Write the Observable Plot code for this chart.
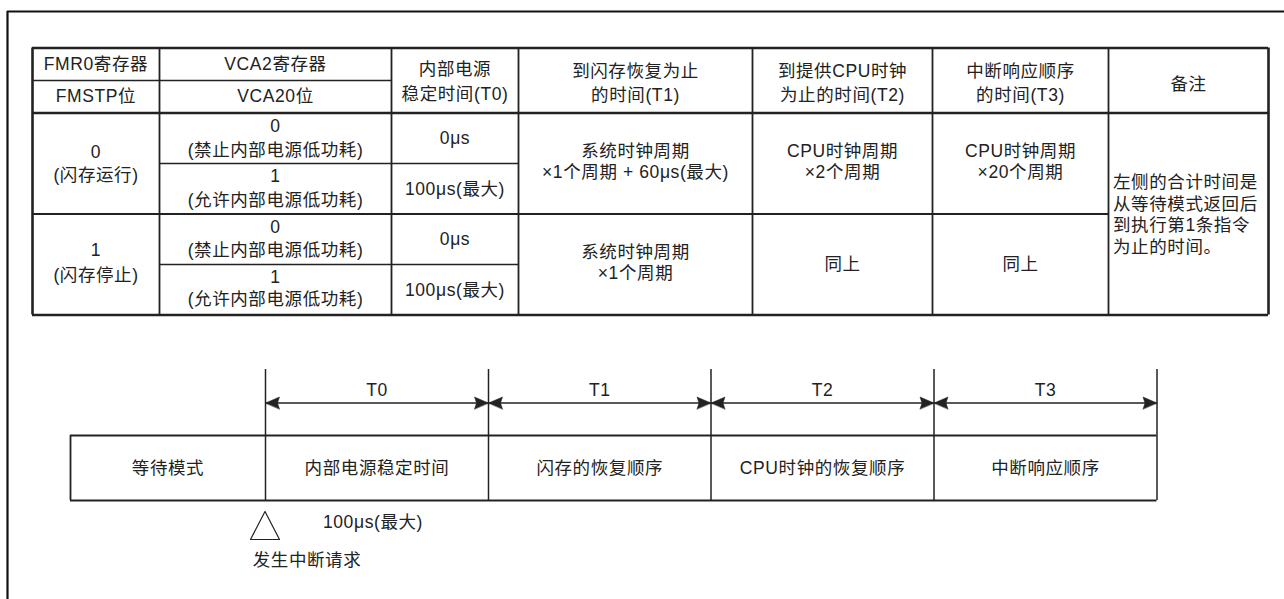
<!DOCTYPE html>
<html>
<head>
<meta charset="utf-8">
<script src="https://cdn.jsdelivr.net/npm/d3@7"></script>
<script src="https://cdn.jsdelivr.net/npm/@observablehq/plot@0.6"></script>
<style>
  html, body { margin: 0; padding: 0; background: #fff; }
  #chart svg { display: block; }
</style>
</head>
<body>
<div id="chart"></div>
<script>
// ---------- table structure ----------
const colEdges = [32, 159, 391, 518, 752, 932, 1108, 1268];
const rowEdges = [47.5, 80, 112.5, 163, 213.5, 264, 314.5];

// header texts: [column, text, y]
const headerTexts = [
  [0, "FMR0寄存器", 63.5], [0, "FMSTP位", 96],
  [1, "VCA2寄存器", 63.5], [1, "VCA20位", 96],
  [2, "内部电源", 69], [2, "稳定时间(T0)", 93.5],
  [3, "到闪存恢复为止", 71], [3, "的时间(T1)", 94.5],
  [4, "到提供CPU时钟", 71], [4, "为止的时间(T2)", 94.5],
  [5, "中断响应顺序", 71], [5, "的时间(T3)", 94.5],
  [6, "备注", 83.5]
];

// body texts: [column, text, y]
const bodyTexts = [
  [0, "0", 151.5], [0, "(闪存运行)", 175],
  [0, "1", 250], [0, "(闪存停止)", 275],
  [1, "0", 126], [1, "(禁止内部电源低功耗)", 150],
  [1, "1", 175.5], [1, "(允许内部电源低功耗)", 199.5],
  [1, "0", 227], [1, "(禁止内部电源低功耗)", 250],
  [1, "1", 276.5], [1, "(允许内部电源低功耗)", 298.5],
  [2, "0μs", 138], [2, "100μs(最大)", 189],
  [2, "0μs", 239], [2, "100μs(最大)", 289.5],
  [3, "系统时钟周期", 151], [3, "×1个周期 + 60μs(最大)", 172],
  [3, "系统时钟周期", 251.5], [3, "×1个周期", 273],
  [4, "CPU时钟周期", 151], [4, "×2个周期", 172],
  [4, "同上", 263.5],
  [5, "CPU时钟周期", 151], [5, "×20个周期", 172],
  [5, "同上", 263.5]
];

const remarkLines = ["左侧的合计时间是", "从等待模式返回后", "到执行第1条指令", "为止的时间。"];
const remarkY = [181.5, 203.5, 225, 247];

// ---------- timing diagram ----------
const phases = ["等待模式", "内部电源稳定时间", "闪存的恢复顺序", "CPU时钟的恢复顺序", "中断响应顺序"];
const periods = ["T0", "T1", "T2", "T3"];
const bounds = [70, 265, 488, 710.5, 933.5, 1156.5];
const diag = {tickTop: 369, arrowY: 402.5, labelY: 390, boxTop: 435, boxBottom: 500};
const noteT0 = "100μs(最大)";
const noteIrq = "发生中断请求";

// ---------- derived geometry ----------
const colCenter = c => (colEdges[c] + colEdges[c + 1]) / 2;
const T = rowEdges, C = colEdges, L = C.length - 1;

const hLines = [
  {y: T[0], x1: C[0], x2: C[L], w: 2.6},
  {y: T[1], x1: C[0], x2: C[2], w: 1.6},
  {y: T[2], x1: C[0], x2: C[L], w: 2.6},
  {y: T[3], x1: C[1], x2: C[3], w: 1.6},
  {y: T[4], x1: C[0], x2: C[6], w: 2.0},
  {y: T[5], x1: C[1], x2: C[3], w: 1.6},
  {y: T[6], x1: C[0], x2: C[L], w: 2.6}
];
const vLines = C.map((x, i) => ({x, y1: T[0], y2: T[6], w: (i === 0 || i === L) ? 2.6 : 1.8}));

const headerData = headerTexts.map(([c, t, y]) => ({x: colCenter(c), y, t}));
const bodyData = bodyTexts.map(([c, t, y]) => ({x: colCenter(c), y, t}));
const remarkData = remarkLines.map((t, i) => ({x: C[6] + 4.5, y: remarkY[i], t}));

const ticks = bounds.slice(1).map(x => ({x, y1: diag.tickTop, y2: diag.boxBottom}));
const boxH = [diag.boxTop, diag.boxBottom].map(y => ({y, x1: bounds[0], x2: bounds[bounds.length - 1]}));
const boxLeft = [{x: bounds[0], y1: diag.boxTop, y2: diag.boxBottom}];
const phaseData = phases.map((t, i) => ({x: (bounds[i] + bounds[i + 1]) / 2, y: (diag.boxTop + diag.boxBottom) / 2, t}));
const periodData = periods.map((t, i) => ({x: (bounds[i + 1] + bounds[i + 2]) / 2, y: diag.labelY, t}));
const shafts = periods.map((t, i) => ({x1: bounds[i + 1], x2: bounds[i + 2], y: diag.arrowY}));

const headLen = 14, headHalf = 6, headNotch = 2;
const heads = [];
periods.forEach((t, i) => {
  const a = bounds[i + 1], b = bounds[i + 2], y = diag.arrowY;
  heads.push(
    {id: i + "L", x: a, y}, {id: i + "L", x: a + headLen, y: y - headHalf},
    {id: i + "L", x: a + headLen - headNotch, y}, {id: i + "L", x: a + headLen, y: y + headHalf});
  heads.push(
    {id: i + "R", x: b, y}, {id: i + "R", x: b - headLen, y: y - headHalf},
    {id: i + "R", x: b - headLen + headNotch, y}, {id: i + "R", x: b - headLen, y: y + headHalf});
});
const triX = bounds[1] - 0.5;
const tri = [
  {x: triX, y: 511}, {x: triX - 14.5, y: 539}, {x: triX + 14.5, y: 539}
];
const notes = [
  {x: triX + 108, y: 522, t: noteT0},
  {x: triX + 42, y: 559.5, t: noteIrq}
];

const ink = "#222";
const fs = 17.5;

const chart = Plot.plot({
  width: 1284,
  height: 599,
  margin: 0,
  x: {domain: [0, 1284], range: [0, 1284], axis: null},
  y: {domain: [0, 599], range: [0, 599], axis: null},
  style: {
    fontFamily: "'Liberation Sans', 'Noto Sans CJK SC', sans-serif",
    letterSpacing: "0.6px",
    background: "#fff",
    color: ink
  },
  marks: [
    // outer frame (extends beyond the image)
    Plot.ruleX([7], {y1: 11, y2: 599, stroke: "#111", strokeWidth: 2.2}),
    Plot.ruleY([11], {x1: 7, x2: 1284, stroke: "#111", strokeWidth: 2.2}),
    // table grid
    Plot.ruleY(hLines, {y: "y", x1: "x1", x2: "x2", strokeWidth: "w", stroke: ink}),
    Plot.ruleX(vLines, {x: "x", y1: "y1", y2: "y2", strokeWidth: "w", stroke: ink}),
    // table text
    Plot.text(headerData, {x: "x", y: "y", text: "t", fontSize: fs, fill: ink}),
    Plot.text(bodyData, {x: "x", y: "y", text: "t", fontSize: fs, fill: ink}),
    Plot.text(remarkData, {x: "x", y: "y", text: "t", fontSize: fs, fill: ink, textAnchor: "start"}),
    // timing diagram
    Plot.ruleX(ticks, {x: "x", y1: "y1", y2: "y2", stroke: ink, strokeWidth: 1.5}),
    Plot.ruleY(boxH, {y: "y", x1: "x1", x2: "x2", stroke: ink, strokeWidth: 1.8}),
    Plot.ruleX(boxLeft, {x: "x", y1: "y1", y2: "y2", stroke: ink, strokeWidth: 1.8}),
    Plot.ruleY(shafts, {y: "y", x1: "x1", x2: "x2", stroke: ink, strokeWidth: 1.6}),
    Plot.line(heads, {x: "x", y: "y", z: "id", curve: "linear-closed", fill: ink, stroke: ink, strokeWidth: 0.5}),
    Plot.text(periodData, {x: "x", y: "y", text: "t", fontSize: fs, fill: ink}),
    Plot.text(phaseData, {x: "x", y: "y", text: "t", fontSize: fs, fill: ink}),
    Plot.line(tri, {x: "x", y: "y", curve: "linear-closed", stroke: ink, strokeWidth: 1.2, fill: "none"}),
    Plot.text(notes, {x: "x", y: "y", text: "t", fontSize: fs, fill: ink})
  ]
});
document.getElementById("chart").appendChild(chart);
</script>
</body>
</html>
